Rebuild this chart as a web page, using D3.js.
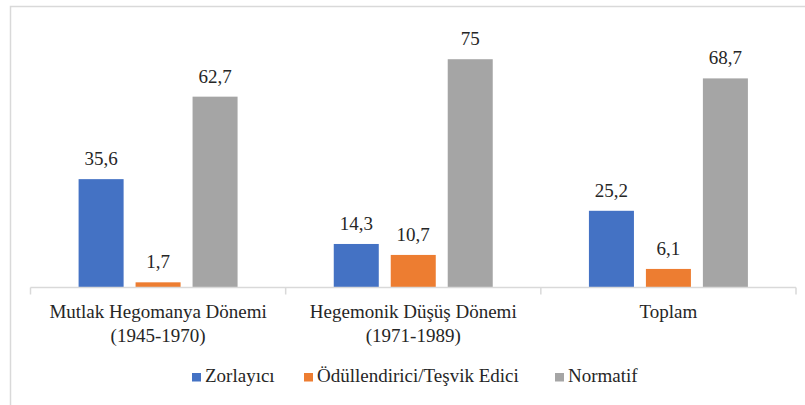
<!DOCTYPE html>
<html>
<head>
<meta charset="UTF-8">
<title>Güç Türleri</title>
<style>
  body { margin: 0; background: #fff; }
</style>
</head>
<body>
<div id="chart"></div>
<script src="https://cdnjs.cloudflare.com/ajax/libs/d3/7.8.5/d3.min.js"></script>
<script>
const categories = [
  ["Mutlak Hegomanya Dönemi", "(1945-1970)"],
  ["Hegemonik Düşüş Dönemi", "(1971-1989)"],
  ["Toplam"]
];
const seriesNames = ["Zorlayıcı", "Ödüllendirici/Teşvik Edici", "Normatif"];
const zorlayici = [35.6, 14.3, 25.2];
const odullendirici = [1.7, 10.7, 6.1];
const normatif = [62.7, 75, 68.7];
const colors = ["#4472C4", "#ED7D31", "#A5A5A5"];

const values = [zorlayici, odullendirici, normatif];
const W = 805, H = 405;
const plotLeft = 30.5, plotRight = 796, plotTop = 44, plotBottom = 287.5;
const fontSize = 19;
const fontFamily = 'Liberation Serif';

const svg = d3.select('#chart').append('svg')
  .attr('width', W).attr('height', H);

// chart frame
svg.append('rect')
  .attr('x', 10.5).attr('y', 6.5)
  .attr('width', 820).attr('height', 420)
  .attr('fill', 'none').attr('stroke', '#d9d9d9').attr('stroke-width', 1.5);

const catIdx = categories.map((c, i) => i);
const x0 = d3.scaleBand().domain(catIdx).range([plotLeft, plotRight]);
const x1 = d3.scaleBand().domain(d3.range(seriesNames.length))
  .range([0, x0.bandwidth()]).paddingInner(0.21).paddingOuter(0.844);
const y = d3.scaleLinear().domain([0, 80]).range([plotBottom, plotTop]);

const fmt = v => String(v).replace('.', ',');

const groups = svg.selectAll('g.cat')
  .data(catIdx).enter().append('g')
  .attr('class', 'cat')
  .attr('transform', i => 'translate(' + x0(i) + ',0)');

groups.selectAll('rect')
  .data(i => values.map((s, k) => ({k: k, v: s[i]})))
  .enter().append('rect')
    .attr('x', d => x1(d.k))
    .attr('y', d => y(d.v))
    .attr('width', x1.bandwidth())
    .attr('height', d => plotBottom - y(d.v))
    .attr('fill', d => colors[d.k]);

groups.selectAll('text.val')
  .data(i => values.map((s, k) => ({k: k, v: s[i]})))
  .enter().append('text')
    .attr('class', 'val')
    .attr('x', d => x1(d.k) + x1.bandwidth() / 2)
    .attr('y', d => y(d.v) - 14)
    .attr('text-anchor', 'middle')
    .attr('font-family', fontFamily)
    .attr('font-size', fontSize)
    .attr('fill', '#262626')
    .text(d => fmt(d.v));

// category axis, ticks between categories
const axis = svg.append('g').attr('class', 'x-axis');
axis.append('line')
  .attr('x1', plotLeft).attr('x2', plotRight)
  .attr('y1', plotBottom).attr('y2', plotBottom)
  .attr('stroke', '#d9d9d9').attr('stroke-width', 1.5);
const tickPos = catIdx.map(i => x0(i)).concat([x0.range()[1]]);
axis.selectAll('line.tick')
  .data(tickPos).enter().append('line')
  .attr('class', 'tick')
  .attr('x1', d => d).attr('x2', d => d)
  .attr('y1', plotBottom).attr('y2', plotBottom + 7)
  .attr('stroke', '#d9d9d9').attr('stroke-width', 1.5);

const labels = axis.selectAll('text.cat')
  .data(catIdx).enter().append('text')
  .attr('class', 'cat')
  .attr('text-anchor', 'middle')
  .attr('x', i => x0(i) + x0.bandwidth() / 2)
  .attr('y', 318)
  .attr('font-family', fontFamily)
  .attr('font-size', fontSize)
  .attr('fill', '#262626');
labels.selectAll('tspan')
  .data(i => categories[i].map(t => ({t: t, x: x0(i) + x0.bandwidth() / 2})))
  .enter().append('tspan')
  .attr('x', d => d.x)
  .attr('dy', (d, j) => j === 0 ? 0 : 24)
  .text(d => d.t);

// legend
const legendX = [192, 304, 555];
const legend = svg.selectAll('g.legend')
  .data(seriesNames).enter().append('g')
  .attr('class', 'legend')
  .attr('transform', (d, i) => 'translate(' + legendX[i] + ',373)');
legend.append('rect')
  .attr('width', 9).attr('height', 8.5)
  .attr('fill', (d, i) => colors[i]);
legend.append('text')
  .attr('x', 13).attr('y', 9)
  .attr('font-family', fontFamily)
  .attr('font-size', fontSize)
  .attr('fill', '#262626')
  .text(d => d);
</script>
</body>
</html>
